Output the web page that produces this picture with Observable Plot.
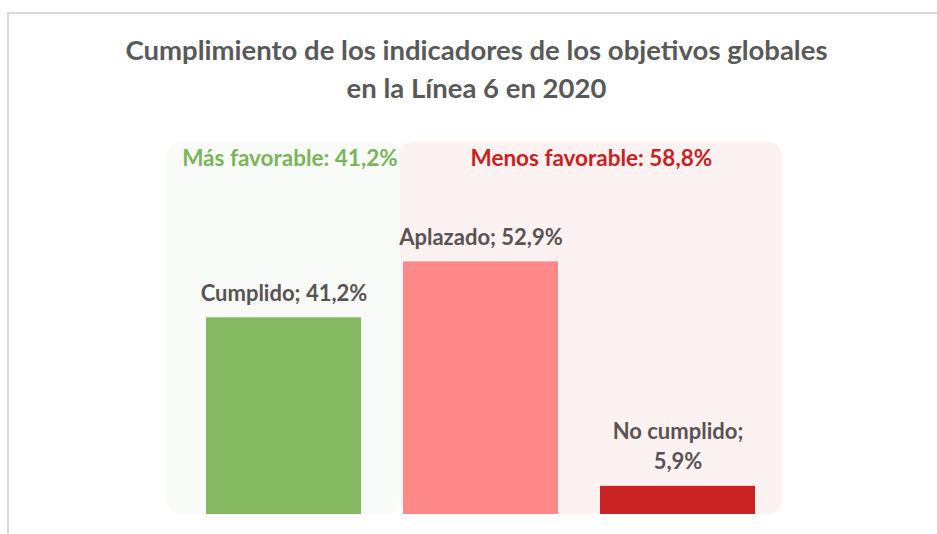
<!DOCTYPE html>
<html>
<head>
<meta charset="utf-8">
<script src="https://cdn.jsdelivr.net/npm/d3@7"></script>
<script src="https://cdn.jsdelivr.net/npm/@observablehq/plot@0.6"></script>
<style>
  html, body { margin: 0; padding: 0; background: #fff; }
  #page { position: relative; width: 937px; height: 534px; overflow: hidden; font-family: Lato, "Open Sans", sans-serif; }
  #frame { position: absolute; left: 7px; top: 12px; right: -10px; bottom: -10px; border-top: 2px solid #d9d9d9; border-left: 2px solid #d9d9d9; }
  #title { position: absolute; left: 18px; width: 917px; top: 31px; text-align: center; font-weight: bold; font-size: 27.5px; line-height: 38px; color: #595959; }
  #chart { position: absolute; left: 0; top: 120px; }
</style>
</head>
<body>
<div id="page">
  <div id="frame"></div>
  <div id="title">Cumplimiento de los indicadores de los objetivos globales<br>en la Línea 6 en 2020</div>
  <div id="chart"></div>
</div>
<script>
// Data
const categories = ["Cumplido", "Aplazado", "No cumplido"];
const values = [41.2, 52.9, 5.9];
const valueLabels = ["Cumplido; 41,2%", "Aplazado; 52,9%", "No cumplido;\n5,9%"];
const groups = ["Más favorable", "Menos favorable"];
const groupValues = [41.2, 58.8];
const groupLabels = ["Más favorable: 41,2%", "Menos favorable: 58,8%"];
const groupMembers = [[0], [1, 2]];

const barColors = ["#84b962", "#ff8888", "#c92323"];
const panelFill = ["#f9fbf8", "#fdf2f2"];
const groupTextColor = ["#7ab55c", "#c9211e"];

const bars = categories.map((c, i) => ({i, c, v: values[i], label: valueLabels[i], color: barColors[i]}));
const panelTop = 78;
const panels = groups.map((g, k) => {
  const m = groupMembers[k];
  return {
    g, label: groupLabels[k], v: groupValues[k],
    x1: k === 0 ? m[0] - 0.59 : m[0] - 0.41,
    x2: k === 0 ? m[m.length - 1] + 0.59 : m[m.length - 1] + 0.53,
    fill: panelFill[k], color: groupTextColor[k]
  };
});

const half = 155 / 197 / 2;

const plot = Plot.plot({
  width: 937,
  height: 414,
  marginTop: 12,
  marginBottom: 20,
  marginLeft: 185,
  marginRight: 161,
  x: {domain: [-0.5, 2.5], axis: null},
  y: {domain: [0, 80], axis: null},
  style: {fontFamily: "Lato, 'Open Sans', sans-serif", background: "transparent", overflow: "visible"},
  marks: [
    Plot.rect(panels, {x1: "x1", x2: "x2", y1: 0, y2: panelTop, fill: "fill", rx: 14}),
    Plot.rect(bars, {x1: d => d.i - half, x2: d => d.i + half, y1: 0, y2: "v", fill: "color"}),
    Plot.text(bars, {x: "i", y: "v", text: "label", lineAnchor: "bottom", dy: -17, lineHeight: 1.4,
      fontSize: 22, fontWeight: "bold", fill: "#595353"}),
    Plot.text(panels, {x: d => (d.x1 + d.x2) / 2 + (d.g === "Más favorable" ? 0.03 : 0), y: panelTop, text: "label",
      lineAnchor: "middle", dy: 17, fontSize: 22.5, fontWeight: "bold", fill: "color"})
  ]
});
document.getElementById("chart").appendChild(plot);
</script>
</body>
</html>
